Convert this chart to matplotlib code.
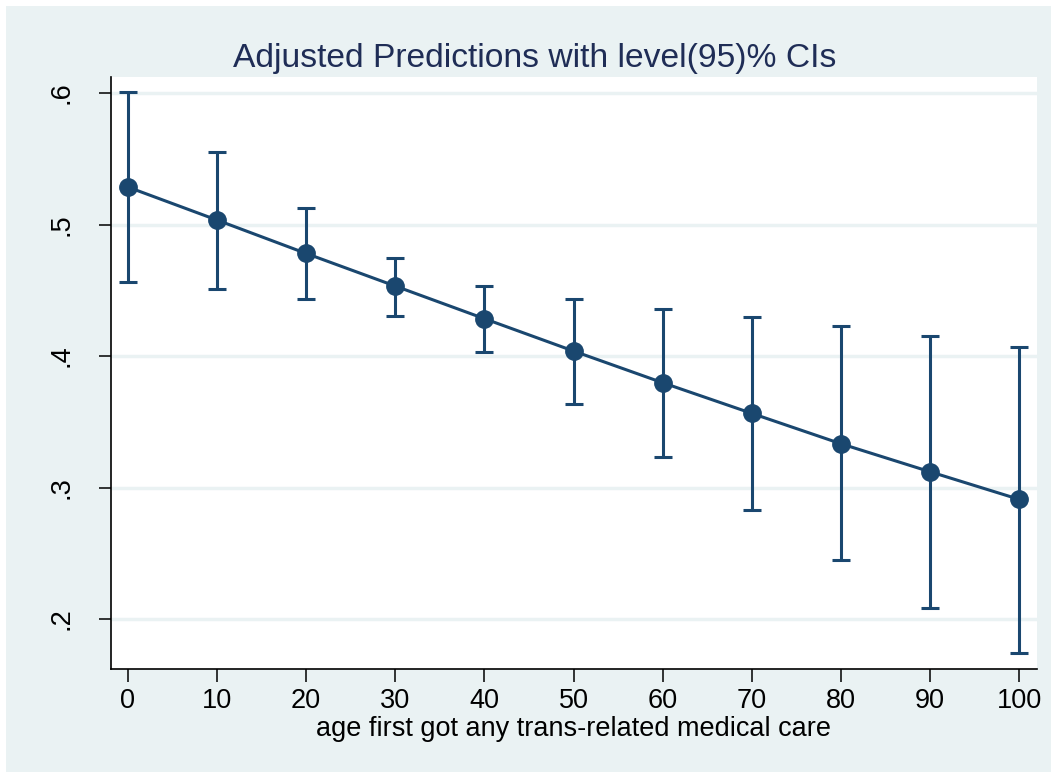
import matplotlib
matplotlib.use("Agg")
import matplotlib.pyplot as plt
from matplotlib.patches import Rectangle

ages = [0, 10, 20, 30, 40, 50, 60, 70, 80, 90, 100]
pred = [0.5285, 0.5034, 0.4780, 0.4532, 0.4284, 0.4038, 0.3797, 0.3564, 0.3333, 0.3120, 0.2910]
ci_low = [0.4565, 0.4510, 0.4433, 0.4304, 0.4030, 0.3635, 0.3232, 0.2829, 0.2446, 0.2081, 0.1739]
ci_high = [0.6005, 0.5551, 0.5125, 0.4745, 0.4532, 0.4433, 0.4360, 0.4299, 0.4226, 0.4154, 0.4071]
xticks = [0, 10, 20, 30, 40, 50, 60, 70, 80, 90, 100]
yticks = [0.2, 0.3, 0.4, 0.5, 0.6]
ytick_labels = [".2", ".3", ".4", ".5", ".6"]

plt.rcParams['font.family'] = ['Liberation Sans', 'DejaVu Sans']

W, H = 1051, 772
fig = plt.figure(figsize=(W/100, H/100), dpi=100, facecolor='white')
bg = '#EAF2F3'
fig.patches.append(Rectangle((6/W, 0), 1, 1 - 6/H, transform=fig.transFigure,
                             facecolor=bg, edgecolor='none', zorder=-10))

ax = fig.add_axes([111/W, 1 - 669/H, (1037-111)/W, (669-77)/H])
ax.set_facecolor('white')
navy = '#1A476F'

yerr = [[p - l for p, l in zip(pred, ci_low)], [h - p for p, h in zip(pred, ci_high)]]
ax.errorbar(ages, pred, yerr=yerr, fmt='none', ecolor=navy, elinewidth=2.2,
            capsize=6.5, capthick=2.2, zorder=3)
ax.plot(ages, pred, color=navy, lw=2.2, marker='o', markersize=12.5, zorder=4)

ax.set_xlim(-1.9, 102.0)
ax.set_ylim(0.162, 0.6122)
ax.set_xticks(xticks)
ax.set_xticklabels([str(v) for v in xticks])
ax.set_yticks(yticks)
ax.set_yticklabels(ytick_labels, rotation=90, va='center')
ax.grid(axis='y', color=bg, lw=2.5, zorder=0)
ax.set_axisbelow(True)
for s in ['top', 'right']:
    ax.spines[s].set_visible(False)
for s in ['left', 'bottom']:
    ax.spines[s].set_color('black')
    ax.spines[s].set_linewidth(1.2)
ax.tick_params(axis='both', length=9, width=1.1, color='black', labelsize=19.5,
               labelcolor='black')
ax.tick_params(axis='x', pad=5)
ax.tick_params(axis='y', pad=17)

ax.set_xlabel('age first got any trans-related medical care', fontsize=19.5,
              color='black', labelpad=1)
fig.text(535/W, 1 - 58/H, 'Adjusted Predictions with level(95)% CIs',
         ha='center', va='center', fontsize=24.2, color='#1F2D56')

fig.savefig('out.png', dpi=100, facecolor=fig.get_facecolor())
